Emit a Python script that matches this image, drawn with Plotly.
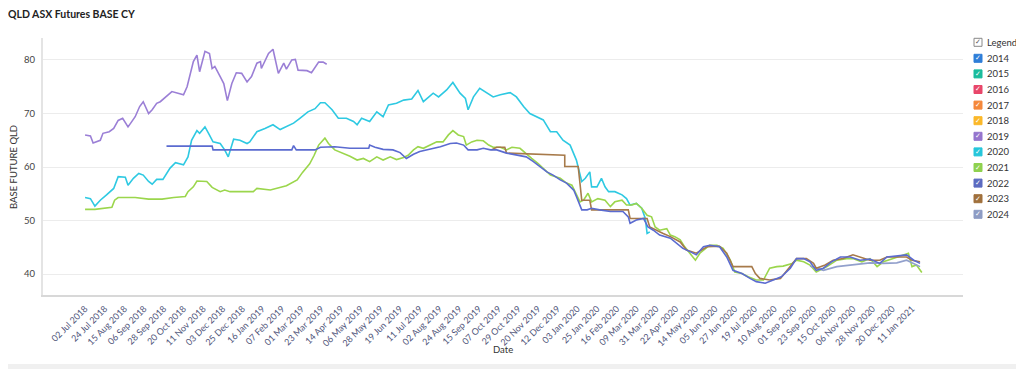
import plotly.graph_objects as go

# ---------------- data ----------------
dates_2019 = ["2018-07-02","2018-07-08","2018-07-11","2018-07-19","2018-07-22","2018-07-29","2018-08-03","2018-08-08","2018-08-13","2018-08-19","2018-08-22","2018-08-27","2018-09-01","2018-09-05","2018-09-11","2018-09-15","2018-09-20","2018-09-24","2018-10-07","2018-10-20","2018-10-24","2018-10-31","2018-11-04","2018-11-07","2018-11-13","2018-11-18","2018-11-21","2018-11-24","2018-11-30","2018-12-04","2018-12-08","2018-12-13","2018-12-18","2018-12-24","2018-12-30","2019-01-04","2019-01-10","2019-01-14","2019-01-15","2019-01-19","2019-01-23","2019-01-28","2019-01-30","2019-02-03","2019-02-09","2019-02-12","2019-02-18","2019-02-22","2019-02-25","2019-03-07","2019-03-12","2019-03-20","2019-03-25","2019-03-29"]
vals_2019 = [66.0,65.8,64.5,65.0,66.3,66.6,67.2,68.7,69.1,67.5,68.2,69.4,71.3,72.2,70.0,70.7,71.9,72.2,74.1,73.5,75.0,79.7,80.9,77.8,81.6,81.2,78.4,78.8,76.9,75.6,72.4,75.6,77.6,77.5,75.9,76.9,79.4,79.7,78.4,79.7,81.2,82.0,80.3,77.5,79.4,78.3,80.0,80.1,78.1,78.0,77.6,79.6,79.6,79.2]

dates_2020 = ["2018-07-02","2018-07-08","2018-07-13","2018-07-19","2018-07-26","2018-08-03","2018-08-08","2018-08-16","2018-08-19","2018-08-25","2018-08-31","2018-09-05","2018-09-11","2018-09-15","2018-09-20","2018-09-27","2018-10-05","2018-10-11","2018-10-20","2018-10-25","2018-10-29","2018-11-04","2018-11-07","2018-11-13","2018-11-17","2018-11-22","2018-11-30","2018-12-05","2018-12-09","2018-12-15","2018-12-22","2018-12-30","2019-01-02","2019-01-10","2019-01-19","2019-01-28","2019-02-05","2019-02-12","2019-02-20","2019-02-27","2019-03-08","2019-03-16","2019-03-22","2019-03-27","2019-04-04","2019-04-11","2019-04-20","2019-04-28","2019-05-02","2019-05-07","2019-05-16","2019-05-24","2019-05-31","2019-06-06","2019-06-15","2019-06-23","2019-07-02","2019-07-09","2019-07-15","2019-07-26","2019-08-01","2019-08-10","2019-08-17","2019-08-25","2019-08-31","2019-09-03","2019-09-09","2019-09-16","2019-09-24","2019-10-01","2019-10-09","2019-10-20","2019-10-27","2019-11-04","2019-11-11","2019-11-19","2019-11-26","2019-12-04","2019-12-11","2019-12-18","2019-12-26","2020-01-02","2020-01-08","2020-01-12","2020-01-17","2020-01-19","2020-01-25","2020-01-30","2020-02-03","2020-02-07","2020-02-14","2020-02-22","2020-02-27","2020-03-02","2020-03-09","2020-03-15","2020-03-19","2020-03-21","2020-03-24"]
vals_2020 = [54.3,54.1,52.7,53.8,54.8,56.0,58.2,58.1,56.6,57.9,58.8,58.5,57.3,56.8,57.7,57.7,59.8,60.8,60.4,61.9,65.0,66.8,66.3,67.5,66.3,64.7,64.4,63.2,61.9,65.2,65.0,64.4,64.7,66.6,67.2,67.9,67.0,67.5,68.2,69.1,70.3,70.9,72.0,72.0,70.7,69.1,69.1,68.5,67.9,69.1,68.5,70.3,69.4,71.6,71.9,72.5,72.7,74.3,72.2,73.8,73.1,74.4,75.8,73.8,72.8,70.7,73.1,74.7,73.8,73.1,73.5,73.9,73.1,71.3,70.0,69.4,68.8,66.6,66.6,65.0,64.1,61.3,57.3,57.9,59.1,56.3,56.3,57.9,56.3,55.4,55.4,54.8,54.1,52.9,53.2,52.3,50.4,47.6,47.9]

dates_2021 = ["2018-07-02","2018-07-13","2018-08-01","2018-08-04","2018-08-08","2018-08-27","2018-09-11","2018-09-26","2018-10-09","2018-10-22","2018-10-25","2018-10-31","2018-11-04","2018-11-15","2018-11-21","2018-11-30","2018-12-05","2018-12-11","2019-01-06","2019-01-10","2019-01-25","2019-02-12","2019-02-24","2019-03-02","2019-03-10","2019-03-15","2019-03-20","2019-03-25","2019-03-27","2019-03-31","2019-04-07","2019-04-24","2019-05-02","2019-05-09","2019-05-16","2019-05-24","2019-05-31","2019-06-08","2019-06-15","2019-06-23","2019-06-28","2019-07-04","2019-07-09","2019-07-15","2019-07-22","2019-07-30","2019-08-06","2019-08-12","2019-08-17","2019-08-23","2019-08-29","2019-09-01","2019-09-07","2019-09-13","2019-09-20","2019-09-26","2019-10-01","2019-10-09","2019-10-16","2019-10-22","2019-10-31","2019-11-06","2019-11-13","2019-11-20","2019-11-26","2019-12-04","2019-12-15","2019-12-22","2019-12-28","2020-01-04","2020-01-06","2020-01-10","2020-01-15","2020-01-19","2020-01-26","2020-02-03","2020-02-09","2020-02-14","2020-02-22","2020-02-27","2020-03-04","2020-03-09","2020-03-15","2020-03-21","2020-03-26","2020-03-30","2020-04-04","2020-04-12","2020-04-16","2020-04-21","2020-04-27","2020-05-02","2020-05-08","2020-05-14","2020-05-19","2020-05-25","2020-05-30","2020-06-07","2020-06-14","2020-06-22","2020-06-27","2020-07-05","2020-07-12","2020-07-21","2020-07-29","2020-08-05","2020-08-13","2020-08-20","2020-08-30","2020-09-04","2020-09-12","2020-09-19","2020-09-26","2020-10-08","2020-10-19","2020-10-30","2020-11-06","2020-11-16","2020-11-25","2020-12-03","2020-12-10","2020-12-21","2021-01-01","2021-01-07","2021-01-11","2021-01-16","2021-01-22"]
vals_2021 = [52.1,52.1,52.5,53.8,54.3,54.3,54.0,54.0,54.3,54.5,55.4,56.3,57.4,57.3,56.2,55.4,55.7,55.4,55.4,56.0,55.7,56.5,57.6,59.0,60.6,62.2,64.1,65.0,65.4,64.4,63.2,62.0,61.3,61.6,61.0,61.9,61.3,61.9,61.4,61.8,62.2,63.2,63.8,63.5,64.1,64.7,64.7,66.0,66.8,66.0,65.7,64.1,64.7,65.0,64.9,64.1,63.7,63.7,63.2,63.7,63.5,62.6,61.6,60.7,59.8,58.5,57.9,57.0,56.6,54.1,53.5,53.8,55.1,53.5,54.1,53.8,52.6,53.5,53.8,52.9,52.9,53.2,52.3,51.0,50.7,48.8,48.2,48.5,47.3,47.0,46.4,45.1,43.9,42.6,43.9,44.8,45.4,45.4,44.8,42.6,40.4,40.1,39.5,38.9,38.9,41.1,41.4,41.5,42.0,42.6,42.3,41.7,40.4,41.4,42.6,42.9,42.9,42.3,42.9,41.4,42.3,42.9,43.6,43.9,41.4,41.7,40.3]

dates_2022 = ["2018-10-01","2018-11-21","2018-11-22","2019-02-18","2019-02-20","2019-02-23","2019-03-16","2019-03-22","2019-04-07","2019-04-24","2019-05-15","2019-05-16","2019-05-22","2019-05-31","2019-06-11","2019-06-19","2019-06-26","2019-07-04","2019-07-11","2019-07-22","2019-08-03","2019-08-14","2019-08-21","2019-08-29","2019-09-03","2019-09-13","2019-09-20","2019-09-28","2019-10-05","2019-10-16","2019-10-27","2019-11-07","2019-11-15","2019-11-22","2019-11-30","2019-12-07","2019-12-15","2019-12-22","2019-12-30","2020-01-02","2020-01-08","2020-01-14","2020-01-19","2020-01-28","2020-02-09","2020-02-23","2020-02-29","2020-03-02","2020-03-09","2020-03-17","2020-03-22","2020-03-28","2020-04-04","2020-04-16","2020-04-23","2020-04-30","2020-05-08","2020-05-15","2020-05-23","2020-05-30","2020-06-10","2020-06-18","2020-06-25","2020-07-05","2020-07-14","2020-07-21","2020-07-31","2020-08-09","2020-08-18","2020-08-28","2020-09-04","2020-09-12","2020-09-19","2020-09-26","2020-10-04","2020-10-13","2020-10-23","2020-11-03","2020-11-14","2020-11-25","2020-12-06","2020-12-14","2020-12-25","2021-01-05","2021-01-13","2021-01-20"]
vals_2022 = [63.9,63.9,63.2,63.2,64.0,63.2,63.2,63.7,63.8,63.5,63.5,64.1,63.7,63.3,63.2,62.7,61.6,62.4,62.9,63.3,63.8,64.4,64.5,64.1,63.2,63.2,63.5,63.2,63.2,62.6,62.2,61.9,61.0,60.1,59.1,58.5,57.6,57.0,55.7,54.5,52.0,52.0,52.3,52.0,51.7,51.7,50.7,49.5,50.1,50.4,48.8,48.2,47.3,46.7,45.7,44.8,44.2,43.6,45.1,45.4,45.1,43.2,40.7,40.1,39.2,38.6,38.3,38.9,39.5,41.1,42.9,42.9,42.3,40.7,41.1,42.3,43.2,43.2,42.6,42.8,42.0,43.2,43.4,43.6,42.6,42.0]

dates_2023 = ["2019-09-29","2019-10-05","2019-10-14","2019-10-16","2019-12-20","2019-12-20","2020-01-04","2020-01-06","2020-01-08","2020-01-17","2020-01-19","2020-02-29","2020-03-02","2020-03-21","2020-03-24","2020-04-08","2020-04-16","2020-04-27","2020-05-04","2020-05-15","2020-05-27","2020-06-10","2020-06-18","2020-06-25","2020-07-07","2020-07-16","2020-07-20","2020-07-25","2020-08-05","2020-08-17","2020-08-20","2020-08-28","2020-09-04","2020-09-15","2020-09-23","2020-09-26","2020-10-06","2020-10-15","2020-10-26","2020-11-06","2020-11-14","2020-11-25","2020-12-06","2020-12-14","2020-12-25","2021-01-05","2021-01-11","2021-01-20"]
vals_2023 = [63.2,63.7,63.7,62.6,62.2,60.1,60.1,56.3,53.8,53.8,52.0,52.0,50.4,50.4,48.8,47.6,47.0,46.0,44.5,43.9,45.1,45.2,43.9,41.4,41.4,41.4,40.1,39.2,38.9,39.2,39.8,41.4,42.9,42.9,42.0,41.1,41.7,42.6,42.9,43.6,43.2,42.6,42.6,43.2,43.2,43.2,42.6,42.3]

dates_2024 = ["2020-09-19","2020-10-04","2020-10-19","2020-11-03","2020-11-25","2020-12-10","2020-12-25","2021-01-05","2021-01-13","2021-01-20"]
vals_2024 = [41.5,40.7,41.4,41.7,42.1,42.0,42.1,42.6,42.0,41.4]

tick_dates = ["2018-07-02","2018-07-24","2018-08-15","2018-09-06","2018-09-28","2018-10-20","2018-11-11","2018-12-03","2018-12-25","2019-01-16","2019-02-07","2019-03-01","2019-03-23","2019-04-14","2019-05-06","2019-05-28","2019-06-19","2019-07-11","2019-08-02","2019-08-24","2019-09-15","2019-10-07","2019-10-29","2019-11-20","2019-12-12","2020-01-03","2020-01-25","2020-02-16","2020-03-09","2020-03-31","2020-04-22","2020-05-14","2020-06-05","2020-06-27","2020-07-19","2020-08-10","2020-09-01","2020-09-23","2020-10-15","2020-11-06","2020-11-28","2020-12-20","2021-01-11"]
y_ticks = [40, 50, 60, 70, 80]

legend_years = ["2014","2015","2016","2017","2018","2019","2020","2021","2022","2023","2024"]
legend_colors = ["#2f7ed8","#1abc9c","#e8476a","#f5883a","#fbb829","#9575cd","#26c6da","#8fd14f","#5c6bc0","#a0703c","#8e9cc4"]
line_colors = {"2019":"#9b7fd6","2020":"#2ec9e2","2021":"#9bd64c","2022":"#5b6bd0","2023":"#a77a4a","2024":"#92a0cc"}

series = [("2019",dates_2019,vals_2019),("2020",dates_2020,vals_2020),("2021",dates_2021,vals_2021),
          ("2024",dates_2024,vals_2024),("2023",dates_2023,vals_2023),("2022",dates_2022,vals_2022)]

# ---------------- figure ----------------
# page body has a default 8px margin, so the figure sits at (8, 8) in the window
OFF = 8
WIN_W, WIN_H = 1024, 369
FONT = "Lato"
L, R, T, B = 43, 963, 38, 295          # plot area in window pixels
W, H = R - L, B - T
def px(x): return (x - L) / W
def py(y): return (B - y) / H

fig = go.Figure()
for name, d, v in series:
    fig.add_trace(go.Scatter(x=d, y=v, mode="lines", name=name,
                             line=dict(color=line_colors[name], width=1.6), showlegend=False))

shapes = [
    dict(type="rect", xref="paper", yref="paper", x0=px(1020), x1=px(1030), y0=py(-5), y1=py(375),
         fillcolor="#f0f0f0", line=dict(width=0), layer="below"),
    dict(type="rect", xref="paper", yref="paper", x0=px(-5), x1=px(1030), y0=py(364), y1=py(375),
         fillcolor="#f0f0f0", line=dict(width=0), layer="below"),
]
annotations = [
    dict(text="<b>QLD ASX Futures BASE CY</b>", x=px(6), y=py(14), xref="paper", yref="paper",
         xanchor="left", yanchor="middle", showarrow=False, font=dict(family=FONT, size=10.5, color="#222")),
    dict(text="BASE FUTURE QLD", x=px(13), y=py(167), xref="paper", yref="paper", textangle=-90,
         xanchor="center", yanchor="middle", showarrow=False, font=dict(family=FONT, size=9.5, color="#333")),
    dict(text="Date", x=px(503), y=py(349), xref="paper", yref="paper",
         xanchor="center", yanchor="middle", showarrow=False, font=dict(family=FONT, size=9.5, color="#333")),
]

# custom legend with check boxes
LX, S = 974, 8
def legend_row(yc, label, fill, border, check_color):
    shapes.append(dict(type="rect", xref="paper", yref="paper", x0=px(LX), x1=px(LX + S),
                       y0=py(yc + S / 2), y1=py(yc - S / 2), fillcolor=fill,
                       line=dict(color=border, width=1)))
    annotations.append(dict(text="✓", x=px(LX + S / 2 + 0.5), y=py(yc), xref="paper", yref="paper",
                            xanchor="center", yanchor="middle", showarrow=False,
                            font=dict(family="DejaVu Sans", size=7, color=check_color)))
    annotations.append(dict(text=label, x=px(LX + S + 3), y=py(yc), xref="paper", yref="paper",
                            xanchor="left", yanchor="middle", showarrow=False,
                            font=dict(family=FONT, size=9.5, color="#333")))

legend_row(42.3, "Legend", "#ffffff", "#888888", "#555555")
for i, (yr, col) in enumerate(zip(legend_years, legend_colors)):
    legend_row(58.3 + 15.6 * i, yr, col, col, "#ffffff")

fig.update_layout(
    width=WIN_W - OFF, height=WIN_H - OFF,
    margin=dict(l=L - OFF, r=WIN_W - R, t=T - OFF, b=WIN_H - B, pad=0, autoexpand=False),
    paper_bgcolor="#ffffff", plot_bgcolor="#ffffff",
    font=dict(family=FONT, size=9, color="#333"),
    showlegend=False,
    shapes=shapes, annotations=annotations,
    xaxis=dict(type="date", range=["2018-05-16", "2021-03-09"], automargin=False,
               tickvals=tick_dates, tickformat="%d %b %Y",
               tickangle=-45, tickfont=dict(family=FONT, size=9, color="#50557a"),
               showgrid=False, zeroline=False, showline=True, linecolor="#d8d8d8", linewidth=2,
               ticks="outside", ticklen=3, tickcolor="rgba(0,0,0,0)"),
    yaxis=dict(range=[36.1, 84.1], tickvals=y_ticks, automargin=False,
               tickfont=dict(family=FONT, size=9.5, color="#444"),
               showgrid=True, gridcolor="#ececec", gridwidth=1, zeroline=False,
               showline=True, linecolor="#e4e4e4", linewidth=2,
               ticks="outside", ticklen=4, tickcolor="rgba(0,0,0,0)"),
)

fig.write_html("out.html")
